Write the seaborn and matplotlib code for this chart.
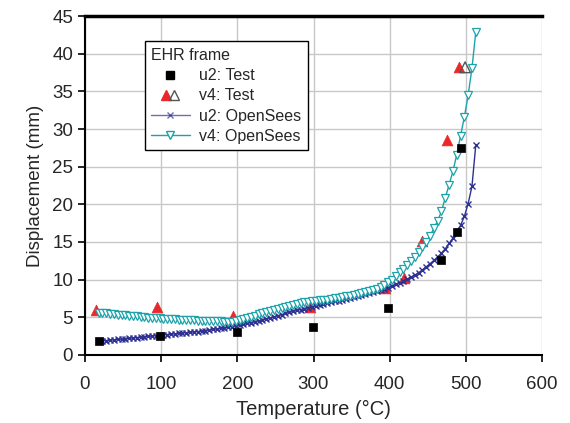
import matplotlib
matplotlib.use("Agg")
import matplotlib.pyplot as plt
import seaborn as sns
import pandas as pd
from matplotlib.lines import Line2D
from matplotlib.legend_handler import HandlerTuple

# ---- data ----
test_u2_T = [18, 98, 200, 299, 398, 468, 489, 494]
test_u2_D = [1.8, 2.5, 3.1, 3.7, 6.2, 12.6, 16.3, 27.5]

test_v4_T = [14, 95, 194, 296, 394, 419, 442, 475, 491]
test_v4_D = [6.0, 6.4, 5.1, 6.3, 8.9, 10.2, 15.1, 28.6, 38.2]

test_v4b_T = [499]
test_v4b_D = [38.2]

ops_T = [18, 23, 28, 33, 38, 43, 48, 53, 58, 63, 68, 73, 78, 83, 88, 93, 98,
         103, 108, 113, 118, 123, 128, 133, 138, 143, 148, 153, 158, 163, 168,
         173, 178, 183, 188, 193, 198, 203, 208, 213, 218, 223, 228, 233, 238,
         243, 248, 253, 258, 263, 268, 273, 278, 283, 288, 293, 298, 303, 308,
         313, 318, 323, 328, 333, 338, 343, 348, 353, 358, 363, 368, 373, 378,
         383, 388, 393, 398, 403, 408, 413, 418, 423, 428, 433, 438, 443, 448,
         453, 458, 463, 468, 473, 478, 483, 488, 493, 498, 503, 508, 513]

ops_u2 = [1.8, 1.85, 1.9, 1.95, 2.0, 2.05, 2.1, 2.15, 2.2, 2.25, 2.3, 2.35, 2.4,
          2.45, 2.5, 2.55, 2.6, 2.65, 2.7, 2.75, 2.8, 2.85, 2.9, 2.95, 3.0, 3.05,
          3.1, 3.17, 3.24, 3.31, 3.38, 3.45, 3.52, 3.6, 3.68, 3.76, 3.84, 3.95,
          4.06, 4.17, 4.29, 4.41, 4.53, 4.66, 4.79, 4.92, 5.05, 5.2, 5.35, 5.5,
          5.64, 5.77, 5.9, 6.02, 6.14, 6.26, 6.38, 6.5, 6.62, 6.74, 6.86, 6.98,
          7.1, 7.22, 7.34, 7.46, 7.58, 7.7, 7.82, 7.94, 8.06, 8.18, 8.32, 8.47,
          8.62, 8.78, 8.95, 9.15, 9.35, 9.55, 9.8, 10.05, 10.3, 10.6, 10.9, 11.3,
          11.7, 12.1, 12.55, 13.0, 13.5, 14.1, 14.8, 15.5, 16.3, 17.2, 18.4, 20.1,
          22.4, 27.9]

ops_v4 = [5.6, 5.55, 5.5, 5.45, 5.4, 5.35, 5.3, 5.25, 5.2, 5.15, 5.1, 5.05, 5.0,
          4.96, 4.92, 4.88, 4.85, 4.82, 4.79, 4.76, 4.73, 4.7, 4.67, 4.64, 4.61,
          4.58, 4.56, 4.54, 4.52, 4.5, 4.48, 4.46, 4.44, 4.42, 4.41, 4.4, 4.45,
          4.58, 4.74, 4.9, 5.06, 5.22, 5.38, 5.53, 5.68, 5.83, 5.97, 6.11, 6.25,
          6.39, 6.53, 6.67, 6.8, 6.9, 6.98, 7.05, 7.11, 7.17, 7.23, 7.29, 7.35,
          7.42, 7.5, 7.58, 7.67, 7.76, 7.86, 7.96, 8.07, 8.18, 8.3, 8.43, 8.57,
          8.78, 9.0, 9.3, 9.65, 10.0, 10.45, 10.95, 11.45, 11.95, 12.5, 13.05,
          13.65, 14.3, 15.0, 15.8, 16.8, 17.8, 19.1, 20.9, 22.6, 24.4, 26.6, 29.1,
          31.6, 34.5, 38.1, 42.9]

x_ticks = [0, 100, 200, 300, 400, 500, 600]
y_ticks = [0, 5, 10, 15, 20, 25, 30, 35, 40, 45]

# ---- style ----
sns.set_style("white")
plt.rcParams['font.family'] = ['Liberation Sans', 'DejaVu Sans']

C_U2 = "#2e3192"
C_V4 = "#1ba3ab"
C_RED = "#e8282a"

fig = plt.figure(figsize=(5.7, 4.23), dpi=100)
ax = fig.add_axes([0.149, 0.161, 0.802, 0.801])

ops_df = pd.DataFrame({"T": ops_T, "u2": ops_u2, "v4": ops_v4})

sns.lineplot(data=ops_df, x="T", y="u2", ax=ax, color=C_U2, lw=1.0,
             marker="x", markersize=5, markeredgecolor=C_U2,
             markeredgewidth=1.0, zorder=4)
sns.lineplot(data=ops_df, x="T", y="v4", ax=ax, color=C_V4, lw=1.0,
             marker="v", markersize=5.5, markerfacecolor="white",
             markeredgecolor=C_V4, markeredgewidth=0.9, zorder=4)

sns.scatterplot(x=test_v4_T, y=test_v4_D, ax=ax, color=C_RED, marker="^",
                s=60, edgecolor=C_RED, linewidth=0.5, zorder=3)
sns.scatterplot(x=test_v4b_T, y=test_v4b_D, ax=ax, facecolor="none", marker="^",
                s=60, edgecolor="#555555", linewidth=1.0, zorder=3)
sns.scatterplot(x=test_u2_T, y=test_u2_D, ax=ax, color="black", marker="s",
                s=40, edgecolor="black", linewidth=0.5, zorder=5)

ax.set_xlim(0, 600)
ax.set_ylim(0, 45)
ax.set_xticks(x_ticks)
ax.set_yticks(y_ticks)
ax.grid(True, color="#c8c8c8", lw=1.0)
ax.set_axisbelow(True)
for side in ["left", "bottom"]:
    ax.spines[side].set_linewidth(1.5)
    ax.spines[side].set_color("black")
ax.spines["top"].set_linewidth(2.5)
ax.spines["top"].set_color("black")
ax.spines["right"].set_visible(False)
ax.tick_params(axis="both", which="major", direction="out", length=5,
               width=1.2, labelsize=13.5, color="black", left=True, bottom=True)
ax.tick_params(axis="x", pad=10)
ax.set_xlabel("Temperature (°C)", fontsize=14.5, labelpad=5)
ax.set_ylabel("Displacement (mm)", fontsize=13.5, labelpad=6)

h_u2t = Line2D([], [], ls="none", marker="s", color="black", markersize=6)
h_red = Line2D([], [], ls="none", marker="^", color=C_RED, markersize=7.5)
h_hol = Line2D([], [], ls="none", marker="^", markerfacecolor="none",
               markeredgecolor="#555555", markersize=7.5)
h_u2o = Line2D([], [], color=C_U2, lw=1.0, marker="x", markersize=5,
               markeredgecolor=C_U2, markeredgewidth=1.0, alpha=0.7)
h_v4o = Line2D([], [], color=C_V4, lw=1.0, marker="v", markersize=5.5,
               markerfacecolor="white", markeredgecolor=C_V4)

leg = ax.legend([h_u2t, (h_red, h_hol), h_u2o, h_v4o],
                ["u2: Test", "v4: Test", "u2: OpenSees", "v4: OpenSees"],
                handler_map={tuple: HandlerTuple(ndivide=2, pad=-1.4)},
                title="EHR frame", loc="upper left",
                bbox_to_anchor=(0.131, 0.925), fontsize=11.5,
                title_fontsize=11.5, frameon=True, fancybox=False,
                edgecolor="black", framealpha=1, handlelength=2.4,
                handletextpad=0.6, borderpad=0.4, labelspacing=0.33,
                borderaxespad=0)
leg._legend_box.align = "left"
leg.get_frame().set_linewidth(1.0)

fig.savefig("out.png", dpi=100)
